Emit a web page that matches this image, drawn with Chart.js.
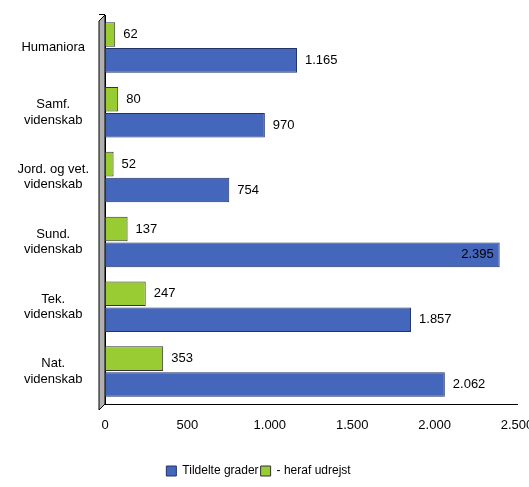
<!DOCTYPE html>
<html><head><meta charset="utf-8">
<script src="https://cdn.jsdelivr.net/npm/chart.js@4"></script>
<style>body{margin:0;background:#fff}#w{width:529px;height:487px}</style>
</head><body><div id="w"><canvas id="c"></canvas></div>
<script>
const categories=[["Humaniora"],["Samf.","videnskab"],["Jord. og vet.","videnskab"],["Sund.","videnskab"],["Tek.","videnskab"],["Nat.","videnskab"]];
const tildelte=[1165,970,754,2395,1857,2062];
const udrejst=[62,80,52,137,247,353];
const xTicks=[0,500,1000,1500,2000,2500];
const fmt=v=>v.toLocaleString('de-DE');
Chart.defaults.font.family="'Liberation Sans', Arial, sans-serif";
Chart.defaults.font.size=13;
Chart.defaults.color='#000';
const lbl={id:'lbl',
beforeDatasetsDraw(ch){const c=ch.ctx,a=ch.chartArea;c.save();c.fillStyle='#b0b0b0';c.strokeStyle='#000';c.lineWidth=1;
c.beginPath();c.moveTo(a.left-6,a.top+6);c.lineTo(a.left,a.top);c.lineTo(a.left,a.bottom);c.lineTo(a.left-6,a.bottom+6);c.closePath();c.fill();c.stroke();c.restore();},
afterDatasetsDraw(ch){const c=ch.ctx;c.save();c.font="13px 'Liberation Sans', Arial";c.fillStyle='#000';c.textBaseline='middle';
ch.data.datasets.forEach((d,i)=>{ch.getDatasetMeta(i).data.forEach((b,j)=>{const v=d.data[j];let x=b.x+8,al='left';
if(b.x+50>ch.chartArea.right){x=b.x-6;al='right';}c.textAlign=al;c.fillText(fmt(v),x,b.y);});});c.restore();}};
new Chart(document.getElementById('c'),{type:'bar',
data:{labels:categories,datasets:[
{label:'- heraf udrejst',data:udrejst,backgroundColor:'#99CC33',borderColor:'#333',borderWidth:1,borderSkipped:false},
{label:'Tildelte grader',data:tildelte,backgroundColor:'#4466BB',borderColor:'#223366',borderWidth:1,borderSkipped:false}]},
options:{indexAxis:'y',responsive:true,maintainAspectRatio:false,animation:false,
layout:{padding:{right:12,top:15,bottom:0}},
datasets:{bar:{categoryPercentage:0.8,barPercentage:0.95}},
plugins:{legend:{position:'bottom',reverse:true,labels:{boxWidth:10,boxHeight:10,padding:2,font:{size:12}}},tooltip:{enabled:false}},
scales:{x:{min:0,max:2500,afterBuildTicks:a=>{a.ticks=xTicks.map(v=>({value:v}));},afterFit:s=>{s.height=59;s.paddingLeft=0;s.paddingRight=0;},
ticks:{callback:v=>fmt(v),font:{size:13},padding:8},grid:{display:false,drawTicks:true,tickLength:6},border:{color:'#000'}},
y:{afterFit:s=>{s.width=105;s.paddingTop=0;s.paddingBottom=0;},grid:{offset:true,display:true,drawOnChartArea:false,tickLength:6,color:'#000'},border:{color:'#000',width:1},ticks:{font:{size:13},crossAlign:'center',padding:10}}}},
plugins:[lbl]});
</script></body></html>
